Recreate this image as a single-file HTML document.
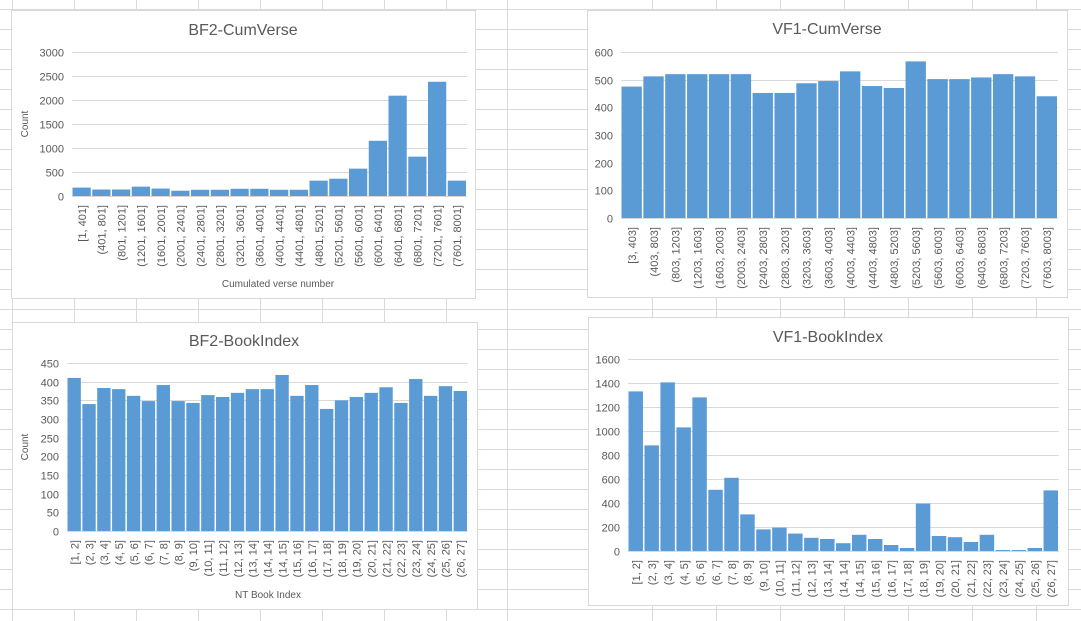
<!DOCTYPE html>
<html><head><meta charset="utf-8">
<style>
html,body{margin:0;padding:0;background:#fff;}
svg{display:block;font-family:"Liberation Sans",sans-serif;}
</style></head>
<body>
<svg id="s" width="1081" height="621" viewBox="0 0 1081 621" xmlns="http://www.w3.org/2000/svg"></svg>
<script>
// ---- data ----
const cumBF2Labels = ["[1, 401]","(401, 801]","(801, 1201]","(1201, 1601]","(1601, 2001]","(2001, 2401]","(2401, 2801]","(2801, 3201]","(3201, 3601]","(3601, 4001]","(4001, 4401]","(4401, 4801]","(4801, 5201]","(5201, 5601]","(5601, 6001]","(6001, 6401]","(6401, 6801]","(6801, 7201]","(7201, 7601]","(7601, 8001]"];
const cumBF2Values = [175,135,135,195,155,110,130,130,150,150,130,130,320,360,570,1150,2090,820,2380,320];
const cumBF2Ticks = [0,500,1000,1500,2000,2500,3000];

const cumVF1Labels = ["[3, 403]","(403, 803]","(803, 1203]","(1203, 1603]","(1603, 2003]","(2003, 2403]","(2403, 2803]","(2803, 3203]","(3203, 3603]","(3603, 4003]","(4003, 4403]","(4403, 4803]","(4803, 5203]","(5203, 5603]","(5603, 6003]","(6003, 6403]","(6403, 6803]","(6803, 7203]","(7203, 7603]","(7603, 8003]"];
const cumVF1Values = [475,512,520,520,520,520,452,452,487,495,530,477,470,566,502,502,508,520,512,440];
const cumVF1Ticks = [0,100,200,300,400,500,600];

const bookLabels = ["[1, 2]","(2, 3]","(3, 4]","(4, 5]","(5, 6]","(6, 7]","(7, 8]","(8, 9]","(9, 10]","(10, 11]","(11, 12]","(12, 13]","(13, 14]","(14, 14]","(14, 15]","(15, 16]","(16, 17]","(17, 18]","(18, 19]","(19, 20]","(20, 21]","(21, 22]","(22, 23]","(23, 24]","(24, 25]","(25, 26]","(26, 27]"];
const bookBF2Values = [410,340,383,380,362,348,391,348,343,364,359,370,380,380,418,362,391,327,350,359,370,385,343,407,362,388,375];
const bookBF2Ticks = [0,50,100,150,200,250,300,350,400,450];
const bookVF1Values = [1330,880,1405,1030,1280,510,610,305,180,195,145,110,100,65,135,100,50,25,395,125,115,75,135,8,8,25,505];
const bookVF1Ticks = [0,200,400,600,800,1000,1200,1400,1600];

const NS="http://www.w3.org/2000/svg";
const svg=document.getElementById('s');
function mk(tag,attrs,parent,txt){const e=document.createElementNS(NS,tag);for(const k in attrs)e.setAttribute(k,attrs[k]);if(txt!==undefined)e.textContent=txt;(parent||svg).appendChild(e);return e;}

// sheet grid
const gridG=mk('g',{});


[12,74,136,198,260,322,384,446,507,652,716,780,844,908,972,1036].forEach(x=>mk('line',{x1:x+0.5,y1:0,x2:x+0.5,y2:621,stroke:'#dadada'},gridG));
for(let y=9;y<621;y+=20)mk('line',{x1:0,y1:y+0.5,x2:1081,y2:y+0.5,stroke:'#dadada'},gridG);

function chart(o){
  const g=mk('g',{});
  
  
  const p=mk('rect',{x:o.px+0.5,y:o.py+0.5,width:o.pw,height:o.ph,fill:'#fff',stroke:'#d9d9d9'},g);
  
  
  const t=mk('text',{x:o.tx,y:o.ty,'font-size':16,fill:'#595959','text-anchor':'middle'},g,o.title);
  
  
  const max=o.ticks[o.ticks.length-1];
  const yS=v=>o.y0-(v/max)*(o.y0-o.y1);
  o.ticks.forEach(v=>{
    const y=Math.round(yS(v))+0.5;
    const l=mk('line',{x1:o.x0,y1:y,x2:o.x1,y2:y,stroke:'#d9d9d9'},g);
    
    
    const tl=mk('text',{x:o.x0-8,y:y+4,'font-size':11,fill:'#595959','text-anchor':'end'},g,String(v));
    
    
  });
  const n=o.values.length, bw=(o.x1-o.x0)/n;
  o.values.forEach((v,i)=>{
    const x=o.x0+i*bw, y=yS(v);
    const r=mk('rect',{x:x+0.5,y:y,width:bw-1.5,height:o.y0-y,fill:'#5B9BD5'},g);
    
    
    const cx=x+bw/2+4, ty=o.y0+9;
    const lt=mk('text',{x:cx,y:ty,'font-size':11,fill:'#595959','text-anchor':'end',transform:`rotate(-90 ${cx} ${ty})`},g,o.labels[i]);
    
    
  });
  const ax=mk('line',{x1:o.x0,y1:o.y0+0.5,x2:o.x1,y2:o.y0+0.5,stroke:'#d9d9d9'},g);
  
  
  if(o.ylab){
    const yl=mk('text',{x:o.ylab[0],y:o.ylab[1],'font-size':10,fill:'#595959','text-anchor':'middle',transform:`rotate(-90 ${o.ylab[0]} ${o.ylab[1]})`},g,'Count');
    
    
  }
  if(o.xlab){
    const xl=mk('text',{x:o.xlab[0],y:o.xlab[1],'font-size':10,fill:'#595959','text-anchor':'middle'},g,o.xlab[2]);
    
    
  }
}

chart({name:'bf2-cumverse-chart',px:11,py:10,pw:464,ph:288,title:'BF2-CumVerse',tx:243,ty:35,x0:72,x1:467,y0:196,y1:52,ticks:cumBF2Ticks,values:cumBF2Values,labels:cumBF2Labels,ylab:[28,124],xlab:[278,287,'Cumulated verse number']});
chart({name:'vf1-cumverse-chart',px:587,py:10,pw:480,ph:287,title:'VF1-CumVerse',tx:827,ty:34,x0:621,x1:1058,y0:218,y1:52,ticks:cumVF1Ticks,values:cumVF1Values,labels:cumVF1Labels});
chart({name:'bf2-bookindex-chart',px:12,py:322,pw:465,ph:287,title:'BF2-BookIndex',tx:244,ty:346,x0:67,x1:468,y0:531,y1:363,ticks:bookBF2Ticks,values:bookBF2Values,labels:bookLabels,ylab:[28,447],xlab:[268,598,'NT Book Index']});
chart({name:'vf1-bookindex-chart',px:588,py:317,pw:480,ph:288,title:'VF1-BookIndex',tx:828,ty:342,x0:628,x1:1059,y0:551,y1:359,ticks:bookVF1Ticks,values:bookVF1Values,labels:bookLabels});
</script>
</body></html>
